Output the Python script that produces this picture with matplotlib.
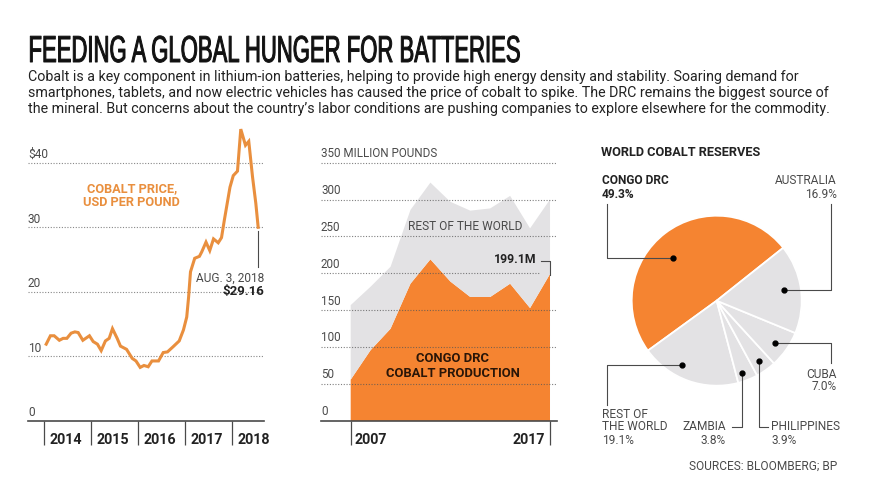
import matplotlib
matplotlib.use('Agg')
import matplotlib.pyplot as plt
import matplotlib.patheffects as pe
from matplotlib.transforms import Affine2D

ORANGE = '#F58431'
LINE_ORANGE = '#E98F3E'
GREY = '#E3E2E4'
DARK = '#222222'
MID = '#4A4A4A'
FONT = 'Roboto'

# price chart
price_dates = [2014.04, 2014.13, 2014.21, 2014.32, 2014.40, 2014.48, 2014.57, 2014.65, 2014.72, 2014.82,
               2014.96, 2015.04, 2015.13, 2015.21, 2015.30, 2015.38, 2015.45, 2015.55, 2015.62, 2015.75,
               2015.87, 2015.95, 2016.04, 2016.12, 2016.21, 2016.29, 2016.43, 2016.53, 2016.62, 2016.74,
               2016.87, 2016.96, 2017.03, 2017.07, 2017.11, 2017.20, 2017.30, 2017.35, 2017.44, 2017.52,
               2017.60, 2017.70, 2017.77, 2017.83, 2017.95, 2018.02, 2018.11, 2018.18, 2018.28, 2018.35,
               2018.43, 2018.50, 2018.55]
price_values = [11.9, 13.2, 13.2, 12.5, 12.8, 12.8, 13.6, 13.8, 13.7, 12.5,
                13.2, 12.3, 11.9, 10.9, 12.4, 12.8, 14.3, 12.8, 11.6, 11.1,
                9.7, 9.3, 8.3, 8.6, 8.4, 9.3, 9.3, 10.6, 10.7, 11.5,
                12.4, 14.1, 16.1, 19.2, 23.1, 25.2, 25.5, 26.2, 27.7, 26.4,
                28.2, 27.6, 28.4, 31.1, 36.2, 38.0, 38.7, 45.2, 42.7, 43.3,
                37.8, 33.7, 30.0]
price_ticks = [0, 10, 20, 30, 40]
price_tick_labels = ['0', '10', '20', '30', '$40']
price_years = [2014, 2015, 2016, 2017, 2018]

# production chart
prod_years = [2007, 2008, 2009, 2010, 2011, 2012, 2013, 2014, 2015, 2016, 2017]
congo_prod = [56, 96, 125, 186, 219, 189, 168, 168, 186, 153, 199.1]
rest_prod = [101, 86, 84, 100, 104, 108, 117, 120, 119, 108, 101]
prod_ticks = [0, 50, 100, 150, 200, 250, 300, 350]
prod_tick_labels = ['0', '50', '100', '150', '200', '250', '300', '350 MILLION POUNDS']

# reserves pie
pie_shares = [49.3, 19.1, 3.8, 3.9, 7.0, 16.9]
pie_colors = [ORANGE, GREY, GREY, GREY, GREY, GREY]


# stretches the glyphs upwards and thickens them, no condensed headline font is installed
class Stretch(pe.AbstractPathEffect):
    def __init__(self, sy, stroke):
        super().__init__()
        self.sy = sy
        self.stroke = stroke

    def draw_path(self, renderer, gc, tpath, affine, rgbFace=None):
        gc0 = renderer.new_gc()
        gc0.copy_properties(gc)
        gc0.set_foreground(rgbFace)
        gc0.set_linewidth(self.stroke)
        renderer.draw_path(gc0, tpath, Affine2D().scale(1, self.sy) + affine, rgbFace)
        gc0.restore()


def px_axes(fig, left, top, right, bottom):
    return fig.add_axes([left / 879, 1 - bottom / 500, (right - left) / 879, (bottom - top) / 500])


def clean_axes(ax):
    ax.patch.set_alpha(0)
    for side in ['top', 'left', 'right']:
        ax.spines[side].set_visible(False)
    ax.spines['bottom'].set_color(MID)
    ax.spines['bottom'].set_linewidth(1.2)
    ax.tick_params(axis='y', left=False, labelleft=False)
    ax.tick_params(axis='x', length=17, width=0.9, color=MID, labelbottom=False, direction='out')


fig = plt.figure(figsize=(8.79, 5), dpi=100, facecolor='white')

# left chart
ax1 = px_axes(fig, 28, 125, 264, 421)
ax1.set_xlim(2013.653, 2018.674)
ax1.set_ylim(0, 45.84)
clean_axes(ax1)
for v, lab in zip(price_ticks, price_tick_labels):
    if v > 0:
        ax1.axhline(v, color='#888888', lw=0.8, ls=(0, (1, 1.5)), zorder=1)
    ax1.annotate(lab, (0, v), xycoords=ax1.get_yaxis_transform(), xytext=(0, 1.2), textcoords='offset points',
                 va='bottom', ha='left', fontsize=8.6, color=MID, family=FONT)
ax1.plot(price_dates, price_values, color=LINE_ORANGE, lw=2.2, zorder=3, clip_on=False, solid_joinstyle='miter')
ax1.set_xticks(price_years)
for y in price_years:
    ax1.annotate(str(y), (y, 0), xytext=(3.6, -14), textcoords='offset points', va='center', ha='left',
                 fontsize=10.3, fontweight='bold', color=DARK, family=FONT)

# middle chart
ax2 = px_axes(fig, 321, 140, 556.7, 421)
ax2.set_xlim(2005.51, 2017.336)
ax2.set_ylim(0, 380.7)
clean_axes(ax2)
ax2.stackplot(prod_years, congo_prod, rest_prod, colors=[ORANGE, GREY], lw=0, zorder=2)
for v, lab in zip(prod_ticks, prod_tick_labels):
    if v > 0:
        xmax = 0.93 if v == 200 else 1
        ax2.plot([0, xmax], [v, v], transform=ax2.get_yaxis_transform(), color='#555555', lw=0.8, alpha=0.75,
                 ls=(0, (1, 1.5)), zorder=3)
    ax2.annotate(lab, (0, v), xycoords=ax2.get_yaxis_transform(), xytext=(0, 2), textcoords='offset points',
                 va='bottom', ha='left', fontsize=8.4, color=MID, family=FONT)
ax2.set_xticks([prod_years[0], prod_years[-1]])
ax2.annotate(str(prod_years[0]), (prod_years[0], 0), xytext=(3, -14), textcoords='offset points',
             va='center', ha='left', fontsize=10.3, fontweight='bold', color=DARK, family=FONT)
ax2.annotate(str(prod_years[-1]), (prod_years[-1], 0), xytext=(-3.6, -14), textcoords='offset points',
             va='center', ha='right', fontsize=10.3, fontweight='bold', color=DARK, family=FONT)

# pie
ax3 = px_axes(fig, 631.7, 215.7, 801.7, 385.7)
ax3.pie(pie_shares, colors=pie_colors, startangle=38.5, radius=1,
        wedgeprops={'edgecolor': 'white', 'linewidth': 1.3})
ax3.set_xlim(-1, 1)
ax3.set_ylim(-1, 1)

# overlay in pixel coordinates for the text and leader lines
ov = fig.add_axes([0, 0, 1, 1])
ov.set_xlim(0, 879)
ov.set_ylim(500, 0)
ov.axis('off')
ov.patch.set_alpha(0)


def label(x, y, s, ha='left', color=MID, weight='normal', size=8.6, family=FONT):
    ov.text(x, y, s, ha=ha, va='center', color=color, fontweight=weight, fontsize=size, family=family)


ov.text(28.5, 62, 'FEEDING A GLOBAL HUNGER FOR BATTERIES', fontsize=15.9, color='#111111',
        family='Liberation Sans', va='baseline', ha='left', path_effects=[Stretch(1.7, 0.7)])
body = ['Cobalt is a key component in lithium-ion batteries, helping to provide high energy density and stability. Soaring demand for',
        'smartphones, tablets, and now electric vehicles has caused the price of cobalt to spike. The DRC remains the biggest source of',
        'the mineral. But concerns about the country\u2019s labor conditions are pushing companies to explore elsewhere for the commodity.']
for y, line in zip([76.7, 93, 109.3], body):
    label(28, y, line, color=DARK, size=10.3)

label(131.7, 189, 'COBALT PRICE,', ha='center', color=LINE_ORANGE, weight='bold', size=9.2)
label(131.7, 203, 'USD PER POUND', ha='center', color=LINE_ORANGE, weight='bold', size=9.2)
ov.plot([258.3, 258.3], [231, 266.7], color=MID, lw=0.8)
label(264, 278, 'AUG. 3, 2018', ha='right')
label(264, 291, '$29.16', ha='right', color=DARK, weight='bold', size=9.5)

label(465, 226.7, 'REST OF THE WORLD', ha='center')
label(536, 259.5, '199.1M', ha='right', color=DARK, weight='bold', size=8.8)
ov.plot([541, 550, 550], [260.7, 260.7, 275], color=MID, lw=0.8)
label(452.7, 359, 'CONGO DRC', ha='center', color='#2A1608', weight='bold', size=9.4)
label(452.7, 373.3, 'COBALT PRODUCTION', ha='center', color='#2A1608', weight='bold', size=9.4)

label(601, 152, 'WORLD COBALT RESERVES', color=DARK, weight='bold', size=9.2)
leaders = [[(672.7, 257.7), (607.3, 257.7), (607.3, 204)],
           [(784.3, 290.3), (830.7, 290.3), (830.7, 204)],
           [(774.7, 343), (830.7, 343), (830.7, 363.3)],
           [(758.7, 361), (758.7, 426.7), (768.3, 426.7)],
           [(742, 373), (742, 426.7), (731.7, 426.7)],
           [(682.3, 364.7), (607.3, 364.7), (607.3, 405)]]
for pts in leaders:
    ov.plot([p[0] for p in pts], [p[1] for p in pts], color=MID, lw=0.8, zorder=4)
    ov.plot(pts[0][0], pts[0][1], 'o', color='black', ms=3.5, zorder=5)

label(601.7, 181, 'CONGO DRC', color=DARK, weight='bold')
label(601.7, 194, '49.3%', color=DARK, weight='bold')
label(836.7, 181, 'AUSTRALIA', ha='right')
label(836.7, 194, '16.9%', ha='right')
label(836.7, 374, 'CUBA', ha='right')
label(836.7, 387, '7.0%', ha='right')
label(771.3, 426.7, 'PHILIPPINES')
label(771.3, 440, '3.9%')
label(725.7, 426.7, 'ZAMBIA', ha='right')
label(725.7, 440, '3.8%', ha='right')
label(601.7, 414, 'REST OF')
label(601.7, 427, 'THE WORLD')
label(601.7, 440, '19.1%')
label(837, 466.7, 'SOURCES: BLOOMBERG; BP', ha='right')

fig.savefig('out.png', dpi=100)
